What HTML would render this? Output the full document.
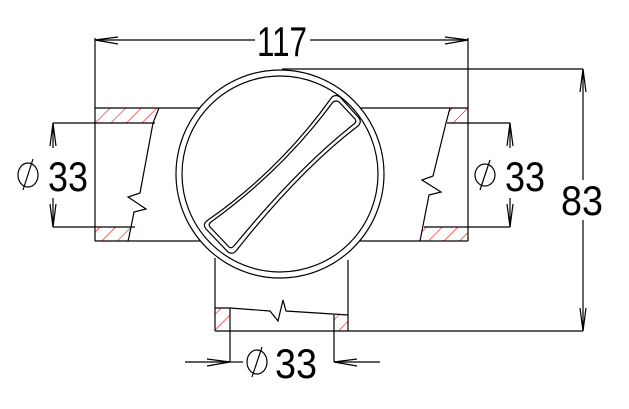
<!DOCTYPE html>
<html><head><meta charset="utf-8"><style>html,body{margin:0;padding:0;background:#fff}svg{display:block}</style></head>
<body>
<svg width="629" height="409" viewBox="0 0 629 409" xmlns="http://www.w3.org/2000/svg">
<defs>
<pattern id="h" width="11" height="11" patternUnits="userSpaceOnUse" patternTransform="rotate(45)">
<line x1="0" y1="0" x2="0" y2="11" stroke="#f00" stroke-width="1.2"/>
</pattern>
</defs>
<g fill="url(#h)" stroke="none">
<rect x="95" y="108" width="62" height="15"/>
<rect x="95" y="227" width="35" height="14"/>
<rect x="448" y="108" width="20" height="15"/>
<rect x="421" y="227" width="47" height="14"/>
<rect x="215" y="308" width="15" height="23"/>
<rect x="334" y="315" width="14" height="16"/>
</g>
<g fill="none" stroke="#000" stroke-width="1.2">
<line x1="95" y1="40" x2="255" y2="40"/><line x1="310" y1="40" x2="468" y2="40"/>
<line x1="95" y1="38" x2="95" y2="241"/><line x1="468" y1="38" x2="468" y2="241"/>
<path d="M95 40 L118 37 M95 40 L118 44 M468 40 L445 37 M468 40 L445 44"/>
<line x1="282" y1="69" x2="583" y2="69"/>
<line x1="583" y1="69" x2="583" y2="180"/><line x1="583" y1="220" x2="583" y2="331"/>
<path d="M583 69 L580 92 M583 69 L586 92 M583 331 L580 308 M583 331 L586 308"/>
<line x1="95" y1="108" x2="200" y2="108"/>
<line x1="53" y1="123" x2="155" y2="123"/>
<line x1="53" y1="227" x2="135" y2="227"/>
<line x1="95" y1="241" x2="200" y2="241"/>
<path d="M159 108 L153 123 L140 193 L128 197 L146 209 L134 212 L129 237 L128 241"/>
<line x1="53" y1="123" x2="53" y2="148"/><line x1="53" y1="198" x2="53" y2="227"/>
<path d="M53 123 L50 146 M53 123 L56 146 M53 227 L50 204 M53 227 L56 204"/>
<ellipse cx="28" cy="175" rx="10" ry="12"/><line x1="23" y1="190" x2="33" y2="159"/>
<line x1="360" y1="108" x2="468" y2="108"/>
<line x1="447" y1="123" x2="510" y2="123"/>
<line x1="424" y1="227" x2="510" y2="227"/>
<line x1="360" y1="241" x2="468" y2="241"/>
<path d="M450 108 L446 123 L433 176 L422 180 L441 192 L429 195 L420 241"/>
<line x1="510" y1="123" x2="510" y2="148"/><line x1="510" y1="198" x2="510" y2="227"/>
<path d="M510 123 L507 146 M510 123 L513 146 M510 227 L507 204 M510 227 L513 204"/>
<ellipse cx="485" cy="175" rx="10" ry="11"/><line x1="480" y1="190" x2="490" y2="160"/>
<line x1="215" y1="258" x2="215" y2="331"/><line x1="348" y1="260" x2="348" y2="331"/>
<line x1="215" y1="331" x2="583" y2="331"/>
<line x1="230" y1="308" x2="230" y2="331"/><line x1="334" y1="315" x2="334" y2="331"/>
<path d="M215 308 L230 308 L270 311 L278 321 L283 300 L286 311 L348 315"/>
<line x1="230" y1="331" x2="230" y2="362"/><line x1="334" y1="331" x2="334" y2="362"/>
<line x1="185" y1="362" x2="230" y2="362"/><line x1="334" y1="362" x2="380" y2="362"/>
<line x1="230" y1="362" x2="243" y2="362"/>
<path d="M230 362 L207 359 M230 362 L207 366 M334 362 L357 359 M334 362 L357 366"/>
<ellipse cx="257" cy="362" rx="10" ry="12"/><line x1="252" y1="377" x2="262" y2="347"/>
<circle cx="280" cy="174" r="104"/>
<circle cx="280" cy="174" r="98"/>
<path d="M332 97 Q336 94 340 97 L359 118 Q362 122 358 126 Q300 170 236 251 Q232 255 228 252 L206 229 Q202 224 208 220 Q280 170 332 97 Z"/>
<path d="M333 102 Q336 100 339 102 L355 119 Q357 122 354 124 Q298 168 234 246 Q231 249 229 247 L210 227 Q208 224 211 222 Q283 170 333 102 Z"/>
</g>
<g font-family="Liberation Sans, sans-serif" font-size="42" fill="#000">
<text x="257" y="56" textLength="50" lengthAdjust="spacingAndGlyphs">117</text>
<text x="48" y="191" textLength="40" lengthAdjust="spacingAndGlyphs">33</text>
<text x="505" y="191" textLength="40" lengthAdjust="spacingAndGlyphs">33</text>
<text x="561" y="215" textLength="42" lengthAdjust="spacingAndGlyphs">83</text>
<text x="275" y="378" textLength="42" lengthAdjust="spacingAndGlyphs">33</text>
</g>
</svg>
</body></html>
